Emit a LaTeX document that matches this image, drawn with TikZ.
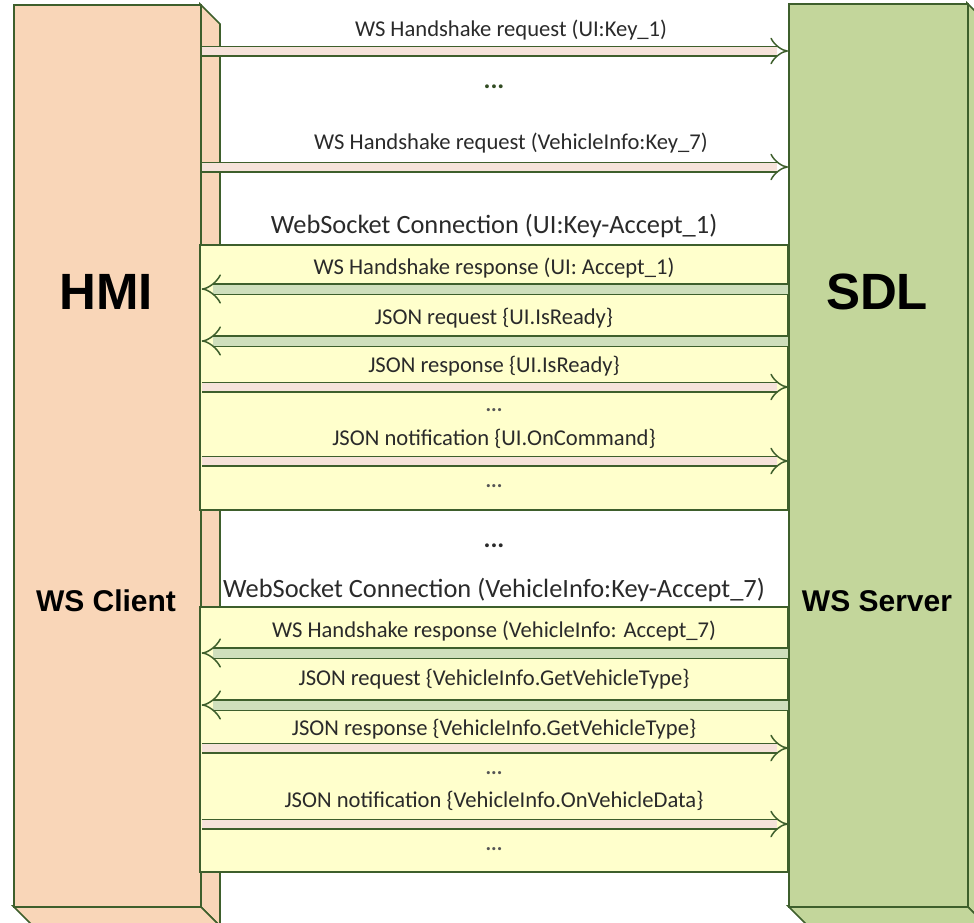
\documentclass[tikz,border=0pt]{standalone}
\usepackage{fontspec}
\setmainfont{Carlito}
\newfontfamily\boldsans{Liberation Sans}
\usetikzlibrary{arrows.meta}

\definecolor{hmifill}{HTML}{F9D6B8}
\definecolor{sdlfill}{HTML}{C3D69B}
\definecolor{edge}{HTML}{3E5F2C}
\definecolor{connfill}{HTML}{FFFFCC}
\definecolor{reqfill}{HTML}{F6E3DA}
\definecolor{respfill}{HTML}{CFDFBC}
\definecolor{txt}{HTML}{2A2A2A}

\begin{document}
\begin{tikzpicture}[x=0.5pt, y=-0.5pt,
    face/.style={draw=edge, line width=0.8pt},
    conn/.style={draw=edge, fill=connfill, line width=0.8pt},
    msg/.style={font=\fontsize{11.3}{13}\selectfont, text=txt, inner sep=0pt},
    title/.style={font=\fontsize{13.2}{15}\selectfont, text=txt, inner sep=0pt},
    dots/.style={font=\fontsize{10.5}{12}\selectfont\bfseries, text=txt!80, inner sep=0pt},
    big/.style={font=\boldsans\bfseries\fontsize{25.5}{28}\selectfont, inner sep=0pt},
    role/.style={font=\boldsans\bfseries\fontsize{15}{18}\selectfont, inner sep=0pt},
    toSDL/.style={draw=edge, line width=0.75pt, double=reqfill, double distance=4pt, -{Implies[length=3pt, width=7.5pt]}},
    toHMI/.style={draw=edge, line width=0.75pt, double=respfill, double distance=4.5pt, -{Implies[length=3pt, width=8pt]}}]
  \useasboundingbox (0,0) rectangle (974,922);

  % HMI block
  \draw[face, fill=hmifill] (200,4) -- (220,24) -- (220,926) -- (200,906) -- cycle;
  \draw[face, fill=hmifill] (13,906) -- (200,906) -- (220,926) -- (33,926) -- cycle;
  \node[face, fill=hmifill, minimum width=93.5pt, minimum height=451pt, anchor=north west] (hmi) at (13,4) {};
  % SDL block
  \draw[face, fill=sdlfill] (967,3) -- (987,23) -- (987,926) -- (967,906) -- cycle;
  \draw[face, fill=sdlfill] (788,906) -- (967,906) -- (987,926) -- (808,926) -- cycle;
  \node[face, fill=sdlfill, minimum width=89.5pt, minimum height=451.5pt, anchor=north west] (sdl) at (788,3) {};

  \node[big] (hminame) at (106,292) {HMI};
  \node[big] (sdlname) at (877,292) {SDL};
  \node[role] (client) at (106,601) {WS Client};
  \node[role] (server) at (877,601) {WS Server};

  % handshake requests
  \node[msg] (hs1) at (511,30) {WS Handshake request (UI:Key\_1)};
  \draw[toSDL] (hmi.east |- 0,51) -- (sdl.west |- 0,51);
  \node[font=\bfseries\fontsize{13}{15}\selectfont, text=edge!80!black] (topdots) at (494,87) {...};
  \node[msg] (hs7) at (511,143) {WS Handshake request (VehicleInfo:Key\_7)};
  \draw[toSDL] (hmi.east |- 0,167) -- (sdl.west |- 0,167);

  % first connection
  \node[title] (ws1) at (494,226) {WebSocket Connection (UI:Key-Accept\_1)};
  \path[conn] (200,245) rectangle (788,510);
  \node[msg] (r1) at (494,268) {WS Handshake response (UI: Accept\_1)};
  \draw[toHMI] (sdl.west |- 0,289) -- (hmi.east |- 0,289);
  \node[msg] (r2) at (494,318) {JSON request \{UI.IsReady\}};
  \draw[toHMI] (sdl.west |- 0,341) -- (hmi.east |- 0,341);
  \node[msg] (r3) at (494,366) {JSON response \{UI.IsReady\}};
  \draw[toSDL] (hmi.east |- 0,387) -- (sdl.west |- 0,387);
  \node[dots] (d1) at (494,410) {...};
  \node[msg] (r4) at (494,439) {JSON notification \{UI.OnCommand\}};
  \draw[toSDL] (hmi.east |- 0,461) -- (sdl.west |- 0,461);
  \node[dots] (d2) at (494,486) {...};

  \node[font=\bfseries\fontsize{13}{15}\selectfont, text=txt] (middots) at (494,546) {...};

  % second connection
  \node[title] (ws7) at (494,590) {WebSocket Connection (VehicleInfo:Key-Accept\_7)};
  \path[conn] (200,607) rectangle (788,872);
  \node[msg] (v1) at (494,631) {WS Handshake response (VehicleInfo: Accept\_7)};
  \draw[toHMI] (sdl.west |- 0,653) -- (hmi.east |- 0,653);
  \node[msg] (v2) at (494,679) {JSON request \{VehicleInfo.GetVehicleType\}};
  \draw[toHMI] (sdl.west |- 0,705) -- (hmi.east |- 0,705);
  \node[msg] (v3) at (494,729) {JSON response \{VehicleInfo.GetVehicleType\}};
  \draw[toSDL] (hmi.east |- 0,748) -- (sdl.west |- 0,748);
  \node[dots] (d3) at (494,773) {...};
  \node[msg] (v4) at (494,801) {JSON notification \{VehicleInfo.OnVehicleData\}};
  \draw[toSDL] (hmi.east |- 0,824) -- (sdl.west |- 0,824);
  \node[dots] (d4) at (494,849) {...};
\end{tikzpicture}
\end{document}
